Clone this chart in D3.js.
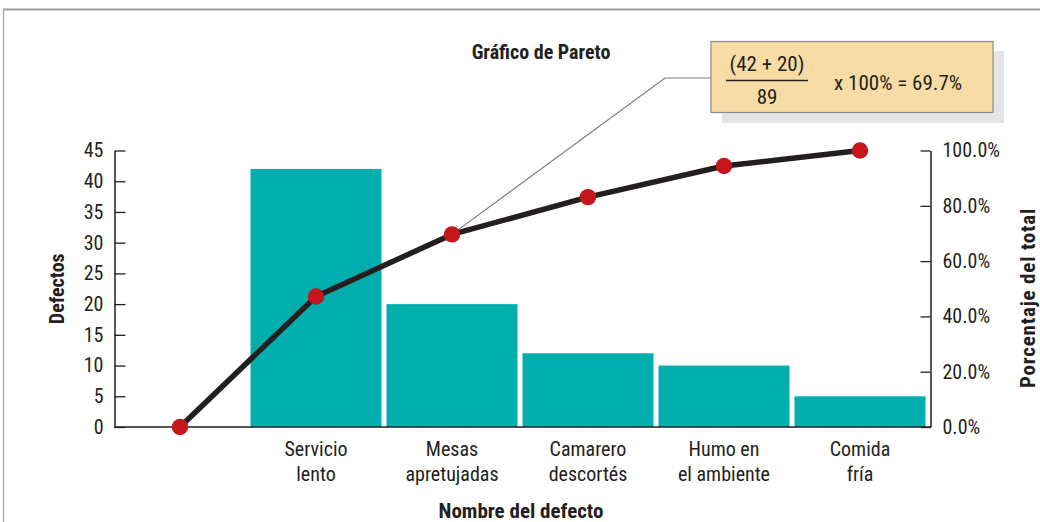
<!DOCTYPE html>
<html>
<head>
<meta charset="utf-8">
<script src="https://cdn.jsdelivr.net/npm/d3@7"></script>
<style>
  html, body { margin: 0; padding: 0; background: #fff; }
  svg { display: block; }
</style>
</head>
<body>
<svg id="chart" width="1040" height="522"></svg>
<script>
// Defect counts, most frequent first (Pareto order)
const categories = ["Servicio lento", "Mesas apretujadas", "Camarero descortés", "Humo en el ambiente", "Comida fría"];
const categoryLines = [["Servicio", "lento"], ["Mesas", "apretujadas"], ["Camarero", "descortés"], ["Humo en", "el ambiente"], ["Comida", "fría"]];
const defects = [42, 20, 12, 10, 5];
const countTicks = [0, 5, 10, 15, 20, 25, 30, 35, 40, 45];
const percentTicks = [0, 0.2, 0.4, 0.6, 0.8, 1.0];

const FONT = "'Liberation Sans Narrow', 'Arial Narrow', 'Roboto Condensed', sans-serif";
const INK = "#231f20";
const TEAL = "#00aead";
const RED = "#c4161c";

const svg = d3.select("#chart");

// Cumulative share; a leading empty slot anchors the curve at 0 %
const total = d3.sum(defects);
const cumulative = [0].concat(Array.from(d3.cumsum(defects), v => v / total));
const slots = [""].concat(categories);

const plotLeft = 114.5, plotRight = 930.5, plotBottom = 427, plotTop = 150.5;

const x = d3.scaleBand()
  .domain(slots)
  .range([plotLeft, plotRight])
  .paddingInner(5 / 136)
  .paddingOuter(2.5 / 136)
  .align(0);

const y = d3.scaleLinear().domain([0, 45]).range([plotBottom, plotTop]);
const yPct = d3.scaleLinear().domain([0, 1]).range([plotBottom, plotTop]);

// Outer frame
svg.append("line").attr("x1", 3).attr("x2", 1040).attr("y1", 9.5).attr("y2", 9.5)
  .attr("stroke", "#9a9a9a").attr("stroke-width", 2);
svg.append("line").attr("x1", 3.5).attr("x2", 3.5).attr("y1", 9).attr("y2", 522)
  .attr("stroke", "#a5a5a5").attr("stroke-width", 1.2);

// Bars
svg.append("g").selectAll("rect")
  .data(defects)
  .join("rect")
  .attr("x", (d, i) => x(categories[i]))
  .attr("y", d => y(d))
  .attr("width", x.bandwidth())
  .attr("height", d => y(0) - y(d))
  .attr("fill", TEAL);

// Left axis (counts)
const gLeft = svg.append("g")
  .attr("transform", `translate(${plotLeft},0)`)
  .call(d3.axisLeft(y).tickValues(countTicks).tickSize(-11).tickSizeOuter(0).tickPadding(11));

// Right axis (cumulative percentage)
const gRight = svg.append("g")
  .attr("transform", `translate(${plotRight},0)`)
  .call(d3.axisRight(yPct).tickValues(percentTicks).tickFormat(d3.format(".1%")).tickSize(-10).tickSizeOuter(0).tickPadding(12));

[gLeft, gRight].forEach(g => {
  g.select(".domain").attr("stroke", INK).attr("stroke-width", 1.5);
  g.selectAll(".tick line").attr("stroke", INK).attr("stroke-width", 1.3);
  g.selectAll(".tick text").attr("fill", INK).style("font-family", FONT).style("font-size", "20px");
});

// Baseline
svg.append("line").attr("x1", plotLeft).attr("x2", plotRight + 0.5).attr("y1", plotBottom).attr("y2", plotBottom)
  .attr("stroke", INK).attr("stroke-width", 1.6);

// Category labels (two lines each)
const labels = svg.append("g")
  .style("font-family", FONT).style("font-size", "20px").attr("fill", INK)
  .attr("text-anchor", "middle");
categories.forEach((c, i) => {
  const cx = x(c) + x.bandwidth() / 2;
  const t = labels.append("text").attr("x", cx).attr("y", 456);
  categoryLines[i].forEach((line, j) => {
    t.append("tspan").attr("x", cx).attr("dy", j === 0 ? 0 : 25).text(line);
  });
});

// Cumulative curve
const px = (d, i) => x(slots[i]) + x.bandwidth() / 2;
const line = d3.line().x(px).y(d => yPct(d));

// Leader from the second category's point to the annotation box
const ann = cumulative[2];
const ax = px(ann, 2), ay = yPct(ann);
svg.append("path")
  .attr("d", `M${ax},${ay} L665,78 L711,78`)
  .attr("fill", "none").attr("stroke", "#7d7d7d").attr("stroke-width", 1.2);

svg.append("path")
  .datum(cumulative)
  .attr("d", line)
  .attr("fill", "none")
  .attr("stroke", INK)
  .attr("stroke-width", 5.5)
  .attr("stroke-linejoin", "round");

svg.append("g").selectAll("circle")
  .data(cumulative)
  .join("circle")
  .attr("cx", px)
  .attr("cy", d => yPct(d))
  .attr("r", 8.2)
  .attr("fill", RED);

// Annotation box with the worked percentage
svg.append("rect").attr("x", 722).attr("y", 51).attr("width", 282).attr("height", 72).attr("fill", "#e5e5e8");
svg.append("rect").attr("x", 711).attr("y", 41.5).attr("width", 282).attr("height", 71)
  .attr("fill", "#f8dca5").attr("stroke", "#8a8a8a").attr("stroke-width", 1.2);

const boxText = svg.append("g").style("font-family", FONT).style("font-size", "21px").attr("fill", INK);
boxText.append("text").attr("x", 767).attr("y", 71).attr("text-anchor", "middle")
  .text(`(${defects[0]} + ${defects[1]})`);
boxText.append("line").attr("x1", 726).attr("x2", 808).attr("y1", 80.5).attr("y2", 80.5)
  .attr("stroke", INK).attr("stroke-width", 1.3);
boxText.append("text").attr("x", 767).attr("y", 104).attr("text-anchor", "middle").text(total);
boxText.append("text").attr("x", 834).attr("y", 90)
  .text(`x 100% = ${d3.format(".1%")(ann)}`);

// Titles
const bold = sel => sel.style("font-family", FONT).style("font-weight", "bold").attr("fill", INK)
  .attr("text-anchor", "middle");

svg.append("text").attr("x", 541).attr("y", 59).style("font-size", "20px")
  .call(bold).text("Gráfico de Pareto");

svg.append("text").attr("x", 521).attr("y", 518).style("font-size", "21px")
  .call(bold).text("Nombre del defecto");

svg.append("text").attr("transform", `translate(64,${(plotTop + plotBottom) / 2}) rotate(-90)`)
  .style("font-size", "20px")
  .call(bold).text("Defectos");

svg.append("text").attr("transform", "translate(1034.5,298) rotate(-90)")
  .style("font-size", "21px").style("letter-spacing", "0.8px")
  .call(bold).text("Porcentaje del total");
</script>
</body>
</html>
